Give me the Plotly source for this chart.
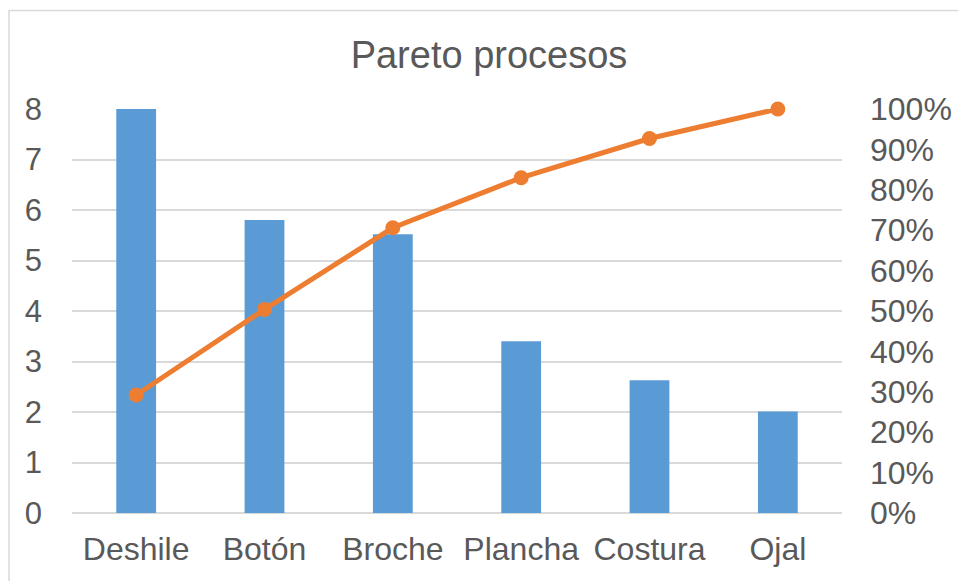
import plotly.graph_objects as go

categories = ["Deshile", "Botón", "Broche", "Plancha", "Costura", "Ojal"]
frecuencia = [8.0, 5.80, 5.52, 3.40, 2.63, 2.01]
acumulado = [0.292, 0.504, 0.706, 0.830, 0.927, 1.0]

left_ticks = [0, 1, 2, 3, 4, 5, 6, 7, 8]
right_ticks = [0, 0.1, 0.2, 0.3, 0.4, 0.5, 0.6, 0.7, 0.8, 0.9, 1.0]
right_labels = ["0%", "10%", "20%", "30%", "40%", "50%", "60%", "70%", "80%", "90%", "100%"]

FONT = "Liberation Sans, Arial, sans-serif"
TXT = "#595959"
GRID = "#d9d9d9"

fig = go.Figure()
fig.add_trace(go.Bar(x=categories, y=frecuencia, marker=dict(color="#5B9BD5", line=dict(width=0)),
                     width=0.31, yaxis="y", showlegend=False))
fig.add_trace(go.Scatter(x=categories, y=acumulado, mode="lines+markers", yaxis="y2",
                         line=dict(color="#ED7D31", width=5), cliponaxis=False,
                         marker=dict(color="#ED7D31", size=15), showlegend=False))

W, H = 958, 581
L, R, T, B = 72, 116, 109, 68
pw, ph = W - L - R, H - T - B

def px2x(px):
    return (px - L) / pw

def py2y(py):
    return (H - B - py) / ph

fig.update_layout(
    width=W, height=H,
    margin=dict(l=L, r=R, t=T, b=B, autoexpand=False),
    paper_bgcolor="white", plot_bgcolor="white",
    title=dict(text="Pareto procesos", xref="container", x=489 / W, xanchor="center",
               y=1 - 55 / H, yanchor="middle",
               font=dict(family=FONT, size=38, color=TXT)),
    xaxis=dict(tickfont=dict(family=FONT, size=32, color=TXT), showgrid=False, automargin=False,
               ticks="", ticklabelstandoff=14, showline=False),
    yaxis=dict(range=[0, 8], tickvals=left_ticks, tickfont=dict(family=FONT, size=31, color=TXT),
               showgrid=True, gridcolor=GRID, gridwidth=1.5, zeroline=True, zerolinecolor=GRID,
               zerolinewidth=1.5, ticklabelstandoff=29, showline=False, automargin=False),
    yaxis2=dict(range=[0, 1], tickvals=right_ticks, ticktext=right_labels, overlaying="y", side="right",
                tickfont=dict(family=FONT, size=32, color=TXT), showgrid=False, zeroline=False,
                ticklabelstandoff=27, showline=False, automargin=False),
    bargap=0.69,
    shapes=[dict(type="rect", xref="paper", yref="paper",
                 x0=px2x(9), x1=px2x(1000), y0=py2y(620), y1=py2y(10.5),
                 line=dict(color=GRID, width=1.5), fillcolor="rgba(0,0,0,0)", layer="below")],
)

fig.write_html("out.html")
